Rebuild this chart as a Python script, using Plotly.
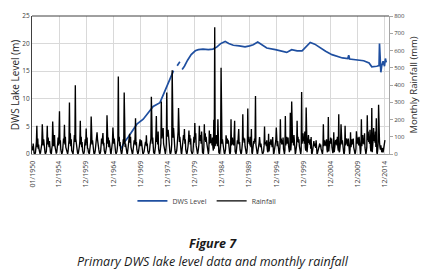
import plotly.graph_objects as go

# ---------------- data ----------------
# Monthly rainfall (mm), one row per year Jan..Dec, 1950-2014
rain_rows = [
    [45, 20, 60, 15, 5, 2, 0, 10, 30, 70, 164, 40],      # 1950
    [90, 30, 55, 25, 8, 3, 5, 20, 45, 60, 173, 70],      # 1951
    [50, 85, 30, 40, 10, 0, 5, 15, 70, 164, 55, 95],     # 1952
    [60, 40, 75, 20, 10, 5, 0, 30, 50, 188, 80, 45],     # 1953
    [70, 110, 45, 30, 8, 2, 10, 25, 60, 95, 50, 120],    # 1954
    [248, 60, 80, 25, 10, 0, 5, 20, 45, 90, 65, 170],    # 1955
    [55, 100, 40, 30, 5, 10, 0, 15, 40, 80, 299, 60],    # 1956
    [120, 45, 85, 20, 10, 5, 0, 30, 55, 110, 70, 398],   # 1957
    [90, 50, 60, 25, 5, 0, 10, 20, 45, 75, 192, 55],     # 1958
    [100, 40, 70, 20, 5, 0, 5, 15, 60, 85, 50, 147],     # 1959
    [65, 95, 35, 30, 10, 5, 0, 25, 40, 70, 218, 90],     # 1960
    [55, 80, 40, 20, 5, 0, 5, 20, 50, 65, 100, 126],     # 1961
    [85, 45, 70, 25, 10, 0, 5, 15, 40, 90, 60, 110],     # 1962
    [121, 50, 65, 20, 5, 0, 10, 25, 45, 224, 70, 60],    # 1963
    [95, 40, 80, 25, 5, 5, 0, 20, 55, 70, 154, 65],      # 1964
    [60, 90, 35, 20, 10, 0, 5, 15, 40, 80, 450, 75],     # 1965
    [100, 45, 70, 30, 5, 0, 5, 20, 50, 85, 60, 357],     # 1966
    [80, 40, 60, 25, 10, 5, 0, 15, 45, 70, 90, 117],     # 1967
    [65, 100, 40, 20, 5, 0, 5, 25, 50, 80, 55, 95],      # 1968
    [207, 50, 70, 25, 10, 0, 5, 20, 40, 65, 85, 60],     # 1969
    [45, 80, 35, 20, 5, 0, 5, 15, 35, 55, 70, 50],       # 1970
    [108, 45, 60, 20, 5, 0, 10, 20, 50, 75, 90, 332],    # 1971
    [85, 60, 95, 25, 10, 5, 0, 20, 45, 110, 220, 70],    # 1972
    [100, 55, 130, 30, 10, 0, 5, 25, 60, 304, 90, 120],  # 1973
    [110, 150, 60, 35, 10, 5, 0, 20, 55, 357, 100, 130], # 1974
    [140, 90, 110, 30, 10, 0, 5, 20, 60, 486, 120, 95],  # 1975
    [150, 80, 100, 25, 5, 0, 10, 20, 50, 90, 130, 267],  # 1976
    [120, 70, 100, 30, 10, 5, 0, 25, 55, 90, 110, 80],   # 1977
    [145, 60, 85, 25, 5, 0, 5, 20, 45, 80, 136, 70],     # 1978
    [110, 55, 90, 20, 10, 0, 5, 15, 50, 100, 65, 179],   # 1979
    [85, 120, 50, 30, 5, 0, 10, 25, 55, 164, 75, 110],   # 1980
    [95, 60, 130, 25, 10, 5, 0, 40, 173, 80, 120, 70],   # 1981
    [100, 70, 55, 30, 5, 0, 20, 136, 60, 90, 115, 65],   # 1982
    [80, 50, 95, 40, 20, 198, 30, 735, 45, 85, 60, 110], # 1983
    [70, 45, 201, 30, 10, 5, 0, 25, 55, 500, 90, 60],    # 1984
    [85, 50, 70, 25, 5, 0, 10, 30, 108, 75, 60, 90],     # 1985
    [60, 80, 40, 20, 5, 0, 15, 201, 50, 70, 95, 55],     # 1986
    [75, 50, 90, 192, 15, 5, 0, 20, 45, 80, 60, 100],    # 1987
    [145, 55, 70, 25, 10, 0, 5, 30, 60, 230, 80, 95],    # 1988
    [65, 90, 45, 30, 5, 0, 10, 40, 263, 70, 100, 60],    # 1989
    [85, 50, 100, 40, 145, 10, 0, 20, 55, 75, 60, 90],   # 1990
    [70, 336, 55, 30, 10, 0, 5, 20, 45, 65, 98, 50],     # 1991
    [40, 60, 35, 20, 5, 0, 5, 15, 50, 160, 55, 70],      # 1992
    [65, 45, 80, 30, 10, 20, 117, 15, 40, 70, 55, 85],   # 1993
    [50, 70, 40, 98, 10, 0, 5, 20, 35, 60, 80, 154],     # 1994
    [60, 45, 75, 25, 10, 5, 0, 40, 201, 65, 90, 55],     # 1995
    [80, 55, 95, 30, 5, 0, 20, 220, 50, 75, 100, 60],    # 1996
    [70, 95, 50, 25, 10, 40, 239, 20, 60, 304, 85, 65],  # 1997
    [90, 50, 110, 30, 5, 0, 10, 25, 55, 192, 70, 100],   # 1998
    [65, 85, 45, 30, 10, 0, 20, 360, 60, 90, 120, 75],   # 1999
    [100, 60, 130, 40, 20, 270, 15, 10, 45, 80, 110, 65],# 2000
    [70, 55, 85, 30, 98, 5, 0, 15, 40, 60, 75, 50],      # 2001
    [45, 60, 35, 80, 10, 0, 5, 15, 30, 45, 40, 61],      # 2002
    [40, 55, 30, 20, 5, 0, 25, 173, 45, 60, 80, 50],     # 2003
    [70, 45, 85, 25, 10, 40, 214, 15, 50, 75, 60, 95],   # 2004
    [60, 90, 40, 30, 5, 20, 126, 10, 45, 65, 80, 55],    # 2005
    [85, 50, 100, 40, 20, 230, 10, 15, 45, 70, 173, 60], # 2006
    [55, 80, 40, 25, 5, 0, 20, 164, 50, 65, 90, 60],     # 2007
    [75, 45, 90, 30, 10, 0, 25, 126, 40, 60, 85, 55],    # 2008
    [65, 90, 40, 25, 5, 0, 10, 30, 132, 70, 60, 95],     # 2009
    [80, 50, 100, 30, 10, 0, 25, 201, 45, 75, 110, 60],  # 2010
    [90, 55, 120, 35, 10, 0, 15, 40, 224, 80, 130, 70],  # 2011
    [100, 60, 140, 40, 15, 30, 267, 10, 50, 85, 150, 75],# 2012
    [110, 65, 130, 40, 207, 10, 0, 20, 60, 286, 90, 70], # 2013
    [40, 25, 50, 20, 10, 20, 35, 10, 30, 50, 60, 80],    # 2014
]
rain_start_year = 1950

# DWS lake level (m): dates and values (None = gap in record)
level_dates = [
    "1966-05", "1967-01", "1967-09", "1968-06", "1969-04", "1970-06", "1971-06",
    "1972-04", "1973-07", "1974-04", "1975-01", "1975-08", "1976-01", "1976-04",
    "1976-09", "1977-03", "1977-05",
    "1977-08", "1978-01", "1978-08", "1979-04", "1980-01", "1980-08", "1981-06",
    "1982-06", "1983-04", "1984-01", "1984-09", "1985-07", "1986-03", "1987-01",
    "1988-02", "1989-03", "1990-01", "1990-09", "1991-07", "1992-05", "1993-03",
    "1994-10", "1995-10", "1996-11", "1997-10", "1998-10", "1999-09", "2000-06",
    "2001-03", "2002-01", "2002-10", "2004-01", "2005-03", "2006-03", "2007-02",
    "2008-02", "2008-04", "2008-06", "2009-10", "2011-01", "2012-01", "2012-07",
    "2013-06", "2013-11", "2013-12", "2014-03", "2014-05", "2014-08", "2014-11",
    "2015-01", "2015-03",
]
level_values = [
    1.0, 2.2, 3.1, 4.3, 5.4, 6.3, 7.6,
    8.6, 9.3, 11.0, 12.8, 14.2, 15.1, None,
    16.0, 16.7, None,
    15.3, 15.9, 17.0, 18.0, 18.7, 18.9, 19.0,
    18.9, 19.0, 19.4, 20.0, 20.4, 20.0, 19.7,
    19.6, 19.4, 19.6, 19.8, 20.3, 19.8, 19.2,
    18.9, 18.7, 18.4, 18.9, 18.7, 18.7, 19.5,
    20.2, 19.9, 19.4, 18.6, 18.0, 17.7, 17.4,
    17.3, 17.9, 17.2, 17.1, 16.9, 16.5, 15.8,
    15.9, 16.0, 20.0, 14.8, 16.0, 16.8, 15.9,
    17.3, 16.6,
]

tick_dates = ["1950-01-01"] + [f"{y}-12-01" for y in range(1954, 2015, 5)]
tick_text = ["01/1950"] + [f"12/{y}" for y in range(1954, 2015, 5)]

# ---------------- figure ----------------
rain_dates = []
rain_values = []
for i, row in enumerate(rain_rows):
    for m, v in enumerate(row):
        rain_dates.append(f"{rain_start_year + i}-{m + 1:02d}-01")
        rain_values.append(v)

BLUE = "#1f4fa0"
FONT = "Open Sans, sans-serif"
fig = go.Figure()
fig.add_trace(go.Scatter(
    x=[d + "-01" for d in level_dates], y=level_values, name="DWS Level",
    mode="lines", line=dict(color=BLUE, width=1.7), connectgaps=False,
    yaxis="y"))
fig.add_trace(go.Scatter(
    x=rain_dates, y=rain_values, name="Rainfall",
    mode="lines", line=dict(color="black", width=1.35), yaxis="y2"))

# page body has an 8px default margin, so the figure is 8px smaller than the window
fig.update_layout(
    width=421, height=270,
    margin=dict(l=24, r=40, t=3, b=124),
    paper_bgcolor="white", plot_bgcolor="white",
    showlegend=True,
    legend=dict(orientation="h", x=0.49, xanchor="center", y=-0.34, yanchor="middle",
                font=dict(family=FONT, size=7, color="#404040"),
                itemwidth=30, tracegroupgap=0, bgcolor="rgba(0,0,0,0)"),
    xaxis=dict(
        type="date", range=["1949-12-10", "2015-09-01"],
        tickmode="array", tickvals=tick_dates, ticktext=tick_text,
        tickangle=-90, tickfont=dict(family=FONT, size=7, color="#404040"),
        ticklabelstandoff=3, ticklabeloverflow="allow",
        showgrid=True, gridcolor="#d9d9d9", gridwidth=1,
        showline=True, linecolor="#a6a6a6", ticks="", zeroline=False),
    yaxis=dict(
        range=[0, 25], dtick=5, tickfont=dict(family=FONT, size=6.5, color="#404040"),
        ticklabeloverflow="allow",
        showgrid=True, gridcolor="#d9d9d9", gridwidth=1,
        showline=True, linecolor="#404040", ticks="", zeroline=False,
        title=dict(text="DWS Lake Level (m)", standoff=3,
                   font=dict(family=FONT, size=10, color="#262626"))),
    yaxis2=dict(
        range=[0, 800], dtick=100, overlaying="y", side="right",
        tickfont=dict(family=FONT, size=6, color="#404040"),
        ticklabeloverflow="allow",
        showgrid=False, zeroline=False,
        showline=True, linecolor="#a6a6a6", ticks="outside", ticklen=3,
        tickcolor="#a6a6a6",
        title=dict(text="Monthly Rainfall (mm)", standoff=6,
                   font=dict(family=FONT, size=9.5, color="#262626"))),
    shapes=[dict(type="line", xref="paper", yref="paper", x0=0, x1=1, y0=1, y1=1,
                 line=dict(color="#404040", width=1))],
    annotations=[
        dict(text="<b><i>Figure 7</i></b>", xref="paper", yref="paper",
             x=0.508, y=-0.650, xanchor="center", yanchor="middle", showarrow=False,
             font=dict(family=FONT, size=12.5, color="#1a1a1a")),
        dict(text="<i>Primary DWS lake level data and monthly rainfall</i>",
             xref="paper", yref="paper", x=0.508, y=-0.777, xanchor="center",
             yanchor="middle", showarrow=False,
             font=dict(family=FONT, size=12.5, color="#1a1a1a")),
    ],
)

fig.write_html("out.html")
